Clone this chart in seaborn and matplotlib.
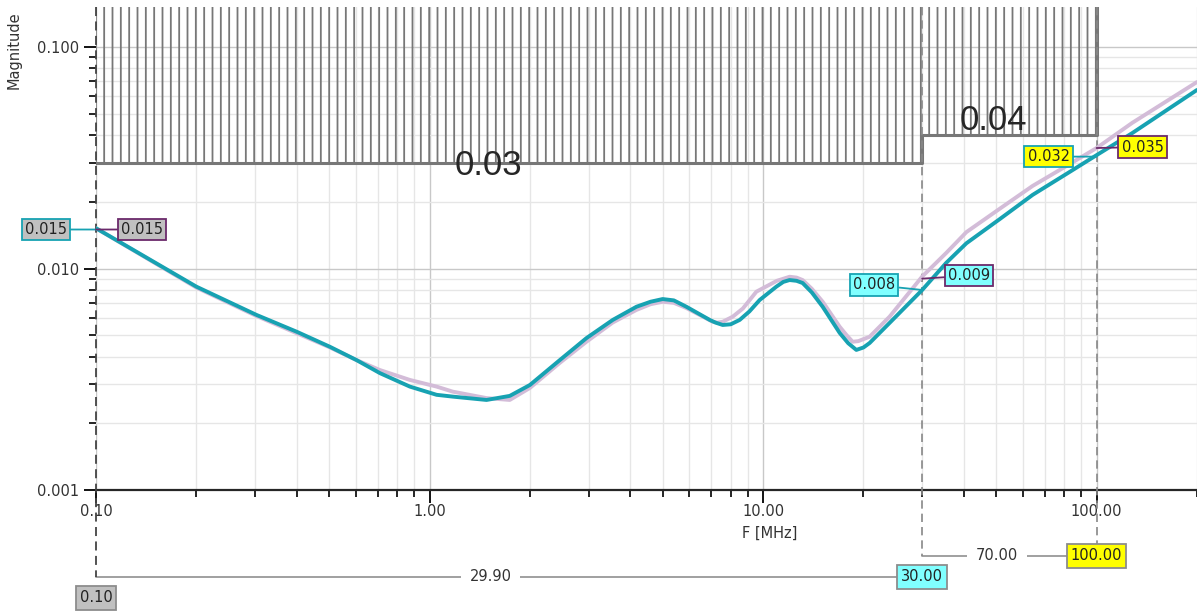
import numpy as np
import pandas as pd
import matplotlib.pyplot as plt
import matplotlib.ticker as mticker
import seaborn as sns

# measured curve A (teal) - frequency in MHz, magnitude
freq_a = [0.1, 0.2, 0.303, 0.40, 0.503, 0.604, 0.71, 0.873, 1.05, 1.174, 1.482, 1.74, 2.0,
          2.458, 2.954, 3.543, 4.172, 4.6, 5.0, 5.4, 5.89, 6.92, 7.2, 7.57, 8.0, 8.51, 9.1, 9.77,
          10.96, 11.5, 12.01, 12.6, 13.14, 14.0, 15.09, 16.97, 18.0, 19.04, 20.0, 20.87, 23.95,
          30.0, 35.4, 40.7, 51.2, 64.3, 81.1, 100.0, 128.0, 200.0]
mag_a = [0.0152, 0.00828, 0.00617, 0.00518, 0.00443, 0.00386, 0.00337, 0.00293, 0.00269, 0.00264,
         0.00255, 0.00266, 0.00298, 0.00386, 0.00485, 0.00586, 0.00672, 0.00708, 0.00728, 0.00718,
         0.00672, 0.00586, 0.0057, 0.00556, 0.0056, 0.00586, 0.0064, 0.00721, 0.00828, 0.0087,
         0.00887, 0.0088, 0.0086, 0.0078, 0.00672, 0.00512, 0.0046, 0.00429, 0.0044, 0.00461,
         0.00568, 0.0080, 0.0106, 0.0130, 0.0167, 0.0215, 0.0267, 0.0325, 0.0409, 0.064]

# measured curve B (light purple)
freq_b = [0.1, 0.2, 0.303, 0.40, 0.503, 0.604, 0.71, 0.873, 1.05, 1.174, 1.482, 1.74, 2.0,
          2.458, 2.954, 3.54, 4.17, 4.6, 5.0, 5.4, 5.89, 7.06, 7.3, 7.57, 8.11, 8.7, 9.55, 11.0,
          12.01, 12.6, 13.14, 14.0, 15.09, 16.97, 17.8, 18.56, 19.3, 20.0, 20.87, 23.95, 30.0,
          35.4, 40.7, 51.2, 64.3, 81.1, 100.0, 128.0, 200.0]
mag_b = [0.0152, 0.0082, 0.0061, 0.0051, 0.0044, 0.00386, 0.00348, 0.00314, 0.00293, 0.00278,
         0.0026, 0.00255, 0.00289, 0.00375, 0.00467, 0.0057, 0.0065, 0.0069, 0.00708, 0.007,
         0.00663, 0.00575, 0.0057, 0.00575, 0.00606, 0.0066, 0.00786, 0.0088, 0.00918, 0.0091,
         0.00887, 0.0081, 0.00708, 0.00546, 0.005, 0.00467, 0.0047, 0.0048, 0.00492, 0.00606,
         0.0092, 0.01175, 0.0146, 0.0186, 0.0236, 0.0290, 0.035, 0.0455, 0.0695]

# limit mask
mask_f = [0.1, 30, 30, 100]
mask_level = [0.03, 0.03, 0.04, 0.04]
mask_text = ['0.03', '0.04']

# markers
marker_f = [0.1, 30, 100]
marker_a = [0.015, 0.008, 0.032]
marker_b = [0.015, 0.009, 0.035]
marker_fill = ['#c0c0c0', '#80ffff', '#ffff00']

teal = '#17a2b2'
mauve = '#d3bcd8'
purple_dark = '#6b2a6b'

sns.set_style('white')
plt.rcParams['font.family'] = ['DejaVu Sans']
plt.rcParams['hatch.linewidth'] = 1.3

df = pd.concat([
    pd.DataFrame({'F': freq_b, 'Magnitude': mag_b, 'trace': 'B'}),
    pd.DataFrame({'F': freq_a, 'Magnitude': mag_a, 'trace': 'A'}),
])

fig = plt.figure(figsize=(11.97, 6.12), dpi=100)
ax = fig.add_axes([96 / 1197, 122 / 612, 1101 / 1197, 483 / 612])

ymax = 0.1516
ax.set_xscale('log')
ax.set_yscale('log')
ax.set_xlim(0.1, 200)
ax.set_ylim(0.001, ymax)

sns.lineplot(data=df, x='F', y='Magnitude', hue='trace', palette={'A': teal, 'B': mauve},
             hue_order=['B', 'A'], sort=False, legend=False, ax=ax, linewidth=2.8, zorder=4)

# hatched limit region
ax.fill_between(mask_f, mask_level, ymax, facecolor='none', edgecolor='#777777',
                hatch='||', linewidth=0, zorder=2)
ax.plot(mask_f + [mask_f[-1]], mask_level + [ymax], color='#777777', lw=2.2, zorder=3)
ax.text(1.5, 0.0293, mask_text[0], fontsize=25, family='Liberation Sans', ha='center', va='center', zorder=5)
ax.text(49, 0.0468, mask_text[1], fontsize=25, family='Liberation Sans', ha='center', va='center', zorder=5)

# grid
ax.set_axisbelow(True)
ax.grid(which='major', color='#c8c8c8', lw=1)
ax.grid(which='minor', color='#e6e6e6', lw=1)

ax.xaxis.set_major_formatter(mticker.FormatStrFormatter('%.2f'))
ax.xaxis.set_minor_formatter(mticker.NullFormatter())
ax.yaxis.set_major_formatter(mticker.FormatStrFormatter('%.3f'))
ax.yaxis.set_minor_formatter(mticker.NullFormatter())
ax.tick_params(which='major', length=9, width=1.3, color='black', labelsize=10.5, labelcolor='#333333')
ax.tick_params(which='minor', length=5, width=1.2, color='black')
ax.tick_params(axis='x', which='both', bottom=True, pad=1)
ax.tick_params(axis='y', which='both', left=True)

for s in ['top', 'right']:
    ax.spines[s].set_visible(False)
ax.spines['bottom'].set_linewidth(1.6)
ax.spines['left'].set_visible(False)

ax.set_xlabel('F [MHz]', fontsize=10.5, color='#333333')
ax.xaxis.set_label_coords(0.612, -0.075)
ax.set_ylabel('Magnitude', fontsize=10.5, color='#333333')
ax.yaxis.set_label_coords(-0.068, 0.911)

trans = ax.get_xaxis_transform()

# vertical marker lines
ax.plot([marker_f[0]] * 2, [1, -0.1801], transform=trans, color='#444444', lw=1.3,
        ls=(0, (5, 3)), clip_on=False, zorder=3)
ax.plot([marker_f[1]] * 2, [1, -0.1366], transform=trans, color='#888888', lw=1.2,
        ls=(0, (5, 3)), clip_on=False, zorder=3)
ax.plot([marker_f[2]] * 2, [1, -0.1139], transform=trans, color='#888888', lw=1.2,
        ls=(0, (5, 3)), clip_on=False, zorder=3)

# dimension lines
ax.plot([marker_f[0], marker_f[1]], [-0.1801] * 2, transform=trans, color='#999999', lw=1.3, clip_on=False)
ax.plot([marker_f[1], marker_f[2]], [-0.1366] * 2, transform=trans, color='#999999', lw=1.3, clip_on=False)
ax.text(np.sqrt(marker_f[0] * marker_f[1]) * 0.88, -0.1801, f'{marker_f[1] - marker_f[0]:.2f}',
        transform=trans, ha='center', va='center', fontsize=10.5, color='#333333',
        bbox=dict(boxstyle='square,pad=0.6', fc='white', ec='none'))
ax.text(np.sqrt(marker_f[1] * marker_f[2]) * 0.92, -0.1366, f'{marker_f[2] - marker_f[1]:.2f}',
        transform=trans, ha='center', va='center', fontsize=10.5, color='#333333',
        bbox=dict(boxstyle='square,pad=0.6', fc='white', ec='none'))
for f, yy, fill in zip(marker_f, [-0.2236, -0.1801, -0.1366], marker_fill):
    ax.text(f, yy, f'{f:.2f}', transform=trans, ha='center', va='center', fontsize=10.5,
            color='#222222', bbox=dict(boxstyle='square,pad=0.28', fc=fill, ec='#8c8c8c', lw=1.3))

# value callouts
off_a = [(-50, 0), (-48, 5), (-48, 0)]
off_b = [(46, 0), (47, 3), (46, 1)]
for f, va_, vb_, fill, oa, ob in zip(marker_f, marker_a, marker_b, marker_fill, off_a, off_b):
    ax.annotate(f'{va_:.3f}', xy=(f, va_), xytext=oa, textcoords='offset pixels',
                ha='center', va='center', fontsize=10.5, color='#222222', zorder=6,
                bbox=dict(boxstyle='square,pad=0.22', fc=fill, ec=teal, lw=1.3),
                arrowprops=dict(arrowstyle='-', color=teal, lw=1.3, shrinkA=0, shrinkB=0),
                annotation_clip=False)
    ax.annotate(f'{vb_:.3f}', xy=(f, vb_), xytext=ob, textcoords='offset pixels',
                ha='center', va='center', fontsize=10.5, color='#222222', zorder=6,
                bbox=dict(boxstyle='square,pad=0.22', fc=fill, ec=purple_dark, lw=1.3),
                arrowprops=dict(arrowstyle='-', color=purple_dark, lw=1.3, shrinkA=0, shrinkB=0),
                annotation_clip=False)

fig.savefig('out.png', dpi=100)
